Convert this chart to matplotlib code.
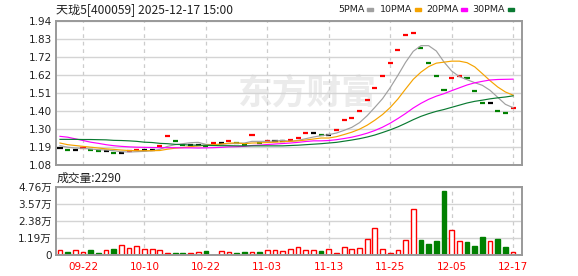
import numpy as np
import pandas as pd
import matplotlib
matplotlib.use('Agg')
import matplotlib.pyplot as plt
from matplotlib.patches import Rectangle

CJK = ['Noto Sans CJK SC', 'DejaVu Sans']
NUM = ['DejaVu Sans', 'Noto Sans CJK SC']

# trading days, National Day holiday (10-01 .. 10-08) removed
dates = pd.bdate_range('2025-09-17', '2025-12-17')
dates = dates[(dates < '2025-10-01') | (dates > '2025-10-08')]
day_labels = list(dates.strftime('%m-%d'))

# daily close (single auction, open = close)
close = [1.18, 1.17, 1.17, 1.18, 1.17, 1.16, 1.16, 1.15, 1.15, 1.16,
         1.17, 1.17, 1.17, 1.19, 1.25, 1.22, 1.20, 1.20, 1.20, 1.19,
         1.21, 1.21, 1.22, 1.21, 1.20, 1.26, 1.21, 1.22, 1.22, 1.22,
         1.23, 1.24, 1.27, 1.27, 1.26, 1.26, 1.29, 1.35, 1.36, 1.40,
         1.47, 1.54, 1.61, 1.69, 1.77, 1.86, 1.87, 1.78, 1.69, 1.61,
         1.53, 1.60, 1.61, 1.60, 1.52, 1.45, 1.45, 1.40, 1.39, 1.42]

# moving averages as shown on the chart
ma5 = [1.194, 1.185, 1.180, 1.178, 1.174, 1.170, 1.168, 1.164, 1.158, 1.156,
       1.158, 1.160, 1.164, 1.172, 1.190, 1.200, 1.206, 1.212, 1.214, 1.202,
       1.200, 1.202, 1.206, 1.208, 1.210, 1.220, 1.220, 1.220, 1.222, 1.226,
       1.220, 1.226, 1.236, 1.246, 1.254, 1.260, 1.270, 1.286, 1.304, 1.332,
       1.374, 1.424, 1.476, 1.542, 1.616, 1.694, 1.760, 1.794, 1.794, 1.762,
       1.696, 1.642, 1.608, 1.590, 1.572, 1.556, 1.526, 1.484, 1.442, 1.422]
ma10 = [1.210, 1.200, 1.195, 1.190, 1.185, 1.180, 1.175, 1.172, 1.168, 1.165,
        1.164, 1.164, 1.164, 1.165, 1.173, 1.179, 1.183, 1.188, 1.193, 1.196,
        1.200, 1.204, 1.209, 1.211, 1.206, 1.210, 1.211, 1.213, 1.215, 1.218,
        1.220, 1.223, 1.228, 1.234, 1.240, 1.240, 1.248, 1.261, 1.275, 1.293,
        1.317, 1.347, 1.381, 1.423, 1.474, 1.534, 1.592, 1.635, 1.668, 1.689,
        1.695, 1.701, 1.701, 1.692, 1.667, 1.626, 1.584, 1.546, 1.516, 1.497]
ma20 = [1.250, 1.245, 1.235, 1.225, 1.215, 1.208, 1.200, 1.194, 1.190, 1.187,
        1.185, 1.184, 1.183, 1.182, 1.182, 1.182, 1.181, 1.181, 1.180, 1.181,
        1.182, 1.184, 1.187, 1.188, 1.190, 1.195, 1.197, 1.201, 1.204, 1.207,
        1.210, 1.214, 1.219, 1.223, 1.223, 1.225, 1.230, 1.237, 1.245, 1.256,
        1.269, 1.285, 1.305, 1.329, 1.357, 1.387, 1.420, 1.448, 1.472, 1.491,
        1.506, 1.524, 1.541, 1.558, 1.571, 1.580, 1.588, 1.591, 1.592, 1.593]
ma30 = [1.232, 1.232, 1.232, 1.231, 1.231, 1.230, 1.229, 1.226, 1.225, 1.223,
        1.220, 1.215, 1.213, 1.208, 1.206, 1.202, 1.200, 1.198, 1.197, 1.196,
        1.195, 1.194, 1.194, 1.193, 1.193, 1.193, 1.193, 1.193, 1.193, 1.193,
        1.195, 1.197, 1.200, 1.203, 1.206, 1.210, 1.214, 1.221, 1.228, 1.236,
        1.246, 1.258, 1.273, 1.289, 1.307, 1.328, 1.350, 1.370, 1.386, 1.400,
        1.411, 1.424, 1.437, 1.450, 1.460, 1.467, 1.475, 1.481, 1.486, 1.493]

# volume in shares
volume = [3500, 2300, 3500, 2300, 3700, 1600, 3500, 4200, 7400, 4800,
          6200, 4200, 4200, 3500, 1800, 1400, 1400, 1400, 2000, 3000,
          500, 2800, 2000, 1600, 2300, 2300, 2300, 3900, 3900, 2800,
          4600, 6000, 3900, 3900, 2800, 4600, 1800, 6000, 4600, 5300,
          11500, 19100, 4600, 1800, 3900, 10800, 32300, 10400, 7600, 9700,
          44300, 17300, 9700, 9000, 6200, 12500, 9700, 11000, 5500, 2290]

tick_dates = ['09-22', '10-10', '10-22', '11-03', '11-13', '11-25', '12-05', '12-17']
price_labels = ['1.08', '1.19', '1.30', '1.40', '1.51', '1.62', '1.72', '1.83', '1.94']
vol_ticks = [0, 11900, 23800, 35700, 47600]
vol_labels = ['0', '1.19万', '2.38万', '3.57万', '4.76万']

RED, GREEN, BLACK = '#ff0000', '#008000', '#000000'
FRAME = '#999999'
GRID = '#d4d4d4'

x = np.arange(len(close))
diff = np.sign(np.diff(close, prepend=close[0]))
candle_col = [RED if d > 0 else GREEN if d < 0 else BLACK for d in diff]
vol_green = [d < 0 for d in diff]

W, H = 578, 276
fig = plt.figure(figsize=(W / 100, H / 100), dpi=100)
ax = fig.add_axes([56 / W, 1 - 164.7 / H, 466 / W, 143.4 / H])
axv = fig.add_axes([56 / W, 1 - 255.3 / H, 466 / W, 68.8 / H])

tick_pos = [day_labels.index(d) for d in tick_dates]
xlim = (-0.52, 60.16)

# price panel
ax.text(0.54, 0.5, '东方财富', transform=ax.transAxes, ha='center', va='center',
        fontsize=25, fontweight='bold', color='#ebebeb', family=CJK, zorder=0)
ax.hlines(close, x - 0.33, x + 0.33, colors=candle_col, lw=1.6, zorder=2)
ax.plot(x, ma5, color='#a0a0a0', lw=0.85, zorder=3)
ax.plot(x, ma10, color='#f5a300', lw=0.85, zorder=3)
ax.plot(x, ma20, color='#ff00ff', lw=0.85, zorder=3)
ax.plot(x, ma30, color='#0a7a32', lw=0.85, zorder=3)

price_pos = np.linspace(1.08, 1.94, len(price_labels))
ax.set_ylim(1.08, 1.94)
ax.set_yticks(price_pos)
ax.set_yticklabels(price_labels)
ax.set_xlim(*xlim)
ax.set_xticks(tick_pos)
ax.set_xticklabels([])

# volume panel
face = [GREEN if g else 'white' for g in vol_green]
edge = [GREEN if g else RED for g in vol_green]
axv.bar(x, volume, width=0.62, color=face, edgecolor=edge, linewidth=1, zorder=2)
axv.set_ylim(0, 47600)
axv.set_yticks(vol_ticks)
axv.set_yticklabels(vol_labels)
axv.set_xlim(*xlim)
axv.set_xticks(tick_pos)
axv.set_xticklabels(tick_dates)

for a in (ax, axv):
    a.set_axisbelow(True)
    a.grid(True, axis='y', color=GRID, lw=1, linestyle='-')
    a.grid(True, axis='x', color='#cccccc', lw=0.9, linestyle=(0, (3, 3)))
    for s in a.spines.values():
        s.set_color(FRAME)
        s.set_linewidth(1.4)
    a.tick_params(axis='both', length=0)
    a.tick_params(axis='y', pad=3, labelsize=7.5, labelcolor='#222222')
    for t in a.get_yticklabels():
        t.set_family(NUM)

axv.tick_params(axis='x', pad=5, labelsize=7.5, labelcolor=RED)

# header texts
fig.text(56 / W, 1 - 9.5 / H, '天珑5[400059] 2025-12-17 15:00', va='center', ha='left',
         fontsize=8.7, color='#222222', family=CJK)
fig.text(57 / W, 1 - 178 / H, '成交量:2290', va='center', ha='left',
         fontsize=8.5, color='#222222', family=CJK)

legend = [('5PMA', '#a0a0a0', 338), ('10PMA', '#f5a300', 380),
          ('20PMA', '#ff00ff', 426), ('30PMA', '#0a7a32', 472)]
for name, col, left in legend:
    t = fig.text(left / W, 1 - 9.5 / H, name, va='center', ha='left',
                 fontsize=6.8, color='#222222', family='DejaVu Sans')
    fig.canvas.draw()
    bb = t.get_window_extent()
    fig.patches.append(Rectangle(((bb.x1 + 3) / W, 1 - 11 / H), 6 / W, 3 / H,
                                 transform=fig.transFigure, color=col))

fig.savefig('out.png', dpi=100)
